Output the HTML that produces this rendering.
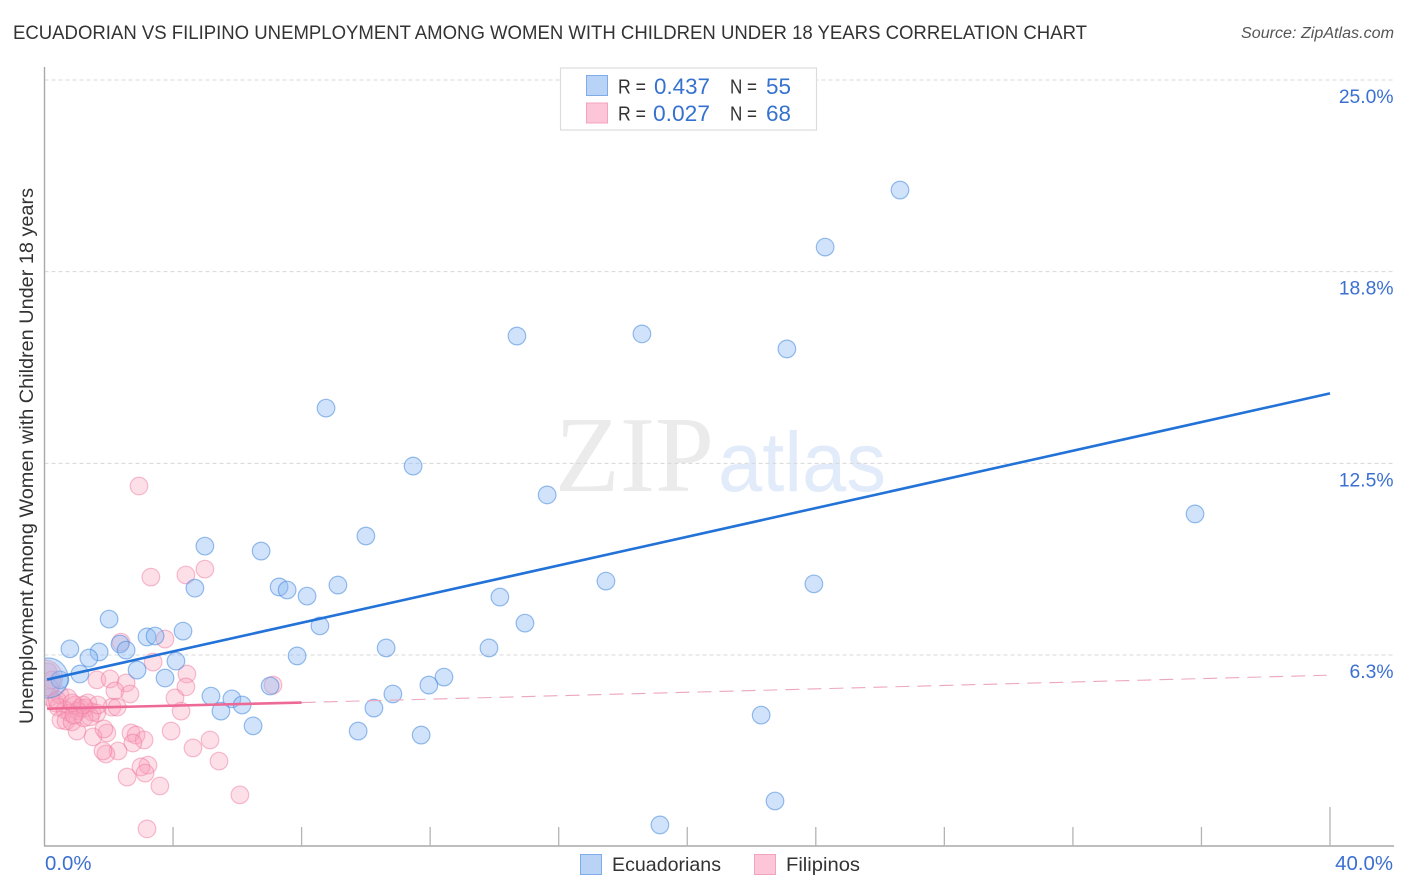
<!DOCTYPE html>
<html lang="en">
<head>
<meta charset="utf-8">
<title>Ecuadorian vs Filipino Unemployment Correlation Chart</title>
<style>
html,body{margin:0;padding:0;background:#fff;width:1406px;height:892px;overflow:hidden}
svg{display:block;font-family:"Liberation Sans",sans-serif}
</style>
</head>
<body>
<svg id="chart" width="1406" height="892" viewBox="0 0 1406 892" xmlns="http://www.w3.org/2000/svg">
  <defs><clipPath id="plot-clip"><rect x="44.5" y="60" width="1350" height="786"/></clipPath></defs>
  <text x="13" y="39" font-size="19" fill="#333" textLength="1074" lengthAdjust="spacingAndGlyphs">ECUADORIAN VS FILIPINO UNEMPLOYMENT AMONG WOMEN WITH CHILDREN UNDER 18 YEARS CORRELATION CHART</text>
  <text x="1241" y="38" font-size="15.5" font-style="italic" fill="#555" textLength="153" lengthAdjust="spacingAndGlyphs">Source: ZipAtlas.com</text>
  <g>
    <text x="555" y="491" font-family="'Liberation Serif',serif" font-size="108" fill="#ebebeb" textLength="159" lengthAdjust="spacingAndGlyphs">ZIP</text>
    <text x="718" y="491" font-size="84" fill="#e2ebfa" textLength="168" lengthAdjust="spacingAndGlyphs">atlas</text>
  </g>
  <g id="grid"></g>
  <g id="pink-series" clip-path="url(#plot-clip)"></g>
  <g id="blue-series" clip-path="url(#plot-clip)"></g>
  <g id="trends"></g>
  <g id="axes"></g>
  <text transform="translate(33,456) rotate(-90)" font-size="19" fill="#333" text-anchor="middle" textLength="536" lengthAdjust="spacingAndGlyphs">Unemployment Among Women with Children Under 18 years</text>
  <g>
    <rect x="560.5" y="68" width="256" height="62" fill="#fff" stroke="#dcdcdc" stroke-width="1.2"/>
    <rect x="586.5" y="75.5" width="21" height="20" fill="#b8d3f6" stroke="#7fabe6" stroke-width="1"/>
    <rect x="586.5" y="103" width="21" height="20" fill="#fcc5d8" stroke="#f3a3bf" stroke-width="1"/>
    <text x="618" y="93.5" font-size="20" fill="#333" textLength="28" lengthAdjust="spacingAndGlyphs">R =</text>
    <text x="654" y="94" font-size="22" fill="#3572cf" textLength="56" lengthAdjust="spacingAndGlyphs">0.437</text>
    <text x="730" y="93.5" font-size="20" fill="#333" textLength="27" lengthAdjust="spacingAndGlyphs">N =</text>
    <text x="766" y="94" font-size="22" fill="#3572cf" textLength="25" lengthAdjust="spacingAndGlyphs">55</text>
    <text x="618" y="120.5" font-size="20" fill="#333" textLength="28" lengthAdjust="spacingAndGlyphs">R =</text>
    <text x="653" y="121" font-size="22" fill="#3572cf" textLength="57" lengthAdjust="spacingAndGlyphs">0.027</text>
    <text x="730" y="120.5" font-size="20" fill="#333" textLength="27" lengthAdjust="spacingAndGlyphs">N =</text>
    <text x="766" y="121" font-size="22" fill="#3572cf" textLength="25" lengthAdjust="spacingAndGlyphs">68</text>
  </g>
  <g>
    <rect x="580.5" y="854.5" width="21" height="20" fill="#b8d3f6" stroke="#7fabe6" stroke-width="1"/>
    <text x="612" y="871" font-size="19.5" fill="#333" textLength="109" lengthAdjust="spacingAndGlyphs">Ecuadorians</text>
    <rect x="754.5" y="854.5" width="21" height="20" fill="#fcc5d8" stroke="#f3a3bf" stroke-width="1"/>
    <text x="786" y="871" font-size="19.5" fill="#333" textLength="74" lengthAdjust="spacingAndGlyphs">Filipinos</text>
  </g>
</svg>
<script>
const blueX = [26.62,24.29,14.70,18.59,23.10,8.76,11.47,15.64,35.80,10.00,4.99,6.74,4.68,7.30,7.55,8.17,9.13,17.47,23.94,14.17,2.01,14.95,8.57,4.31,3.19,3.44,2.35,2.54,0.79,1.70,1.38,4.09,7.86,10.63,13.83,2.88,1.10,3.75,12.43,11.96,10.84,7.02,5.18,5.83,6.15,5.49,10.25,6.49,9.76,11.72,22.30,22.73,19.15,0.48];
const blueY = [21.41,19.55,16.65,16.72,16.23,14.30,12.41,11.47,10.85,10.13,9.80,9.64,8.43,8.47,8.37,8.17,8.53,8.66,8.57,8.14,7.42,7.29,7.20,7.03,6.84,6.87,6.61,6.41,6.45,6.35,6.15,6.05,6.22,6.48,6.48,5.76,5.63,5.50,5.53,5.27,4.98,5.24,4.91,4.82,4.62,4.42,4.52,3.94,3.77,3.64,4.29,1.49,0.71,5.44];
const pinkX = [2.94,3.31,4.40,4.99,2.38,3.75,3.38,4.43,4.40,7.11,1.63,2.04,2.54,2.19,2.66,4.06,4.25,3.94,5.15,4.62,5.43,6.08,3.59,3.19,2.57,3.22,3.00,3.13,2.29,1.91,1.82,1.94,1.51,1.85,2.69,2.85,3.10,2.75,2.10,2.26,0.17,0.33,0.48,0.73,0.95,1.10,0.42,0.64,0.79,1.35,1.48,1.26,1.63,1.04,0.51,0.67,0.86,1.01,1.23,1.42,1.66,1.20,0.11,0.23,0.17,0.39,0.92,0.86];
const pinkY = [11.76,8.79,8.86,9.05,6.67,6.77,6.02,5.63,5.21,5.27,5.44,5.47,5.34,5.08,4.98,4.85,4.42,3.77,3.48,3.22,2.79,1.69,1.98,0.58,2.27,2.66,2.60,2.40,3.12,3.02,3.12,3.71,3.58,3.84,3.71,3.64,3.48,3.38,4.55,4.55,4.88,4.69,4.95,4.85,4.62,4.52,4.55,4.46,4.36,4.69,4.39,4.52,4.36,4.42,4.13,4.10,4.07,3.77,4.20,4.23,4.62,4.62,5.70,5.44,5.17,4.78,4.29,4.69];
const blueLargeX = [0.11];
const blueLargeY = [5.50];
const pinkLargeX = [0.00];
const pinkLargeY = [5.50];
const blueTrendX = [0.08, 40.0];
const blueTrendY = [5.45, 14.78];
const pinkTrendX = [0.08, 8.0, 39.9];
const pinkTrendY = [4.50, 4.70, 5.59];
const yTickValues = [25.0, 18.75, 12.5, 6.25];
const yTickLabels = ["25.0%", "18.8%", "12.5%", "6.3%"];
const xTickValues = [0,4,8,12,16,20,24,28,32,36,40];
const xEndLabels = ["0.0%", "40.0%"];

const NS = "http://www.w3.org/2000/svg";
const xScale = v => 44.5 + v * 1285.5 / 40;
const yScale = v => 846.7 - v * 30.67;

function make(parent, tag, attrs) {
  const el = document.createElementNS(NS, tag);
  for (const k in attrs) el.setAttribute(k, attrs[k]);
  parent.appendChild(el);
  return el;
}

const grid = document.getElementById("grid");
const axes = document.getElementById("axes");
const pinkG = document.getElementById("pink-series");
const blueG = document.getElementById("blue-series");
const trends = document.getElementById("trends");

yTickValues.forEach((v, i) => {
  const line = make(grid, "line", {x1: 44.5, x2: 1394, y1: yScale(v), y2: yScale(v), stroke: "#d8d8d8", "stroke-width": 1, "stroke-dasharray": "4 3"});
  
  
  const t = make(axes, "text", {x: 1393.5, y: yScale(v) + 23, "font-size": 19.3, fill: "#3b70d2", "text-anchor": "end"});
  t.textContent = yTickLabels[i];
  
  
});

const yAxis = make(axes, "line", {x1: 44.5, x2: 44.5, y1: 67, y2: 846, stroke: "#a8a8a8", "stroke-width": 1.4});


const xAxis = make(axes, "line", {x1: 44, x2: 1394, y1: 846, y2: 846, stroke: "#a8a8a8", "stroke-width": 1.4});



xTickValues.forEach((v, i) => {
  if (i === 0) return;
  const top = i === xTickValues.length - 1 ? 807 : 827;
  const tick = make(axes, "line", {x1: xScale(v), x2: xScale(v), y1: top, y2: 846, stroke: "#b4b4b4", "stroke-width": 1.3});
  
  
});

const xStart = make(axes, "text", {x: 45, y: 870, "font-size": 20.4, fill: "#3b70d2"});
xStart.textContent = xEndLabels[0];


const xEnd = make(axes, "text", {x: 1393, y: 870, "font-size": 20.4, fill: "#3b70d2", "text-anchor": "end"});
xEnd.textContent = xEndLabels[1];



const pinkStyle = {fill: "rgba(248,160,188,0.34)", stroke: "rgba(238,120,158,0.48)", "stroke-width": 1.2};
const blueStyle = {fill: "rgba(140,185,242,0.40)", stroke: "rgba(60,130,220,0.52)", "stroke-width": 1.2};

pinkX.forEach((x, i) => {
  const c = make(pinkG, "circle", Object.assign({cx: xScale(x), cy: yScale(pinkY[i]), r: 8.8}, pinkStyle));
  
  
});
pinkLargeX.forEach((x, i) => {
  const c = make(pinkG, "circle", Object.assign({cx: xScale(x), cy: yScale(pinkLargeY[i]), r: 18}, pinkStyle));
  
  
});
blueX.forEach((x, i) => {
  const c = make(blueG, "circle", Object.assign({cx: xScale(x), cy: yScale(blueY[i]), r: 8.8}, blueStyle));
  
  
});
blueLargeX.forEach((x, i) => {
  const c = make(blueG, "circle", Object.assign({cx: xScale(x), cy: yScale(blueLargeY[i]), r: 20}, blueStyle));
  
  
});

const blueLine = make(trends, "line", {x1: xScale(blueTrendX[0]), y1: yScale(blueTrendY[0]), x2: xScale(blueTrendX[1]), y2: yScale(blueTrendY[1]), stroke: "#2272d8", "stroke-width": 2.6});


const pinkDash = make(trends, "line", {x1: xScale(pinkTrendX[1]), y1: yScale(pinkTrendY[1]), x2: xScale(pinkTrendX[2]), y2: yScale(pinkTrendY[2]), stroke: "#eda6bf", "stroke-width": 1.1, "stroke-dasharray": "14 8"});


const pinkLine = make(trends, "line", {x1: xScale(pinkTrendX[0]), y1: yScale(pinkTrendY[0]), x2: xScale(pinkTrendX[1]), y2: yScale(pinkTrendY[1]), stroke: "#ee6a96", "stroke-width": 2.6});


</script>
</body>
</html>
